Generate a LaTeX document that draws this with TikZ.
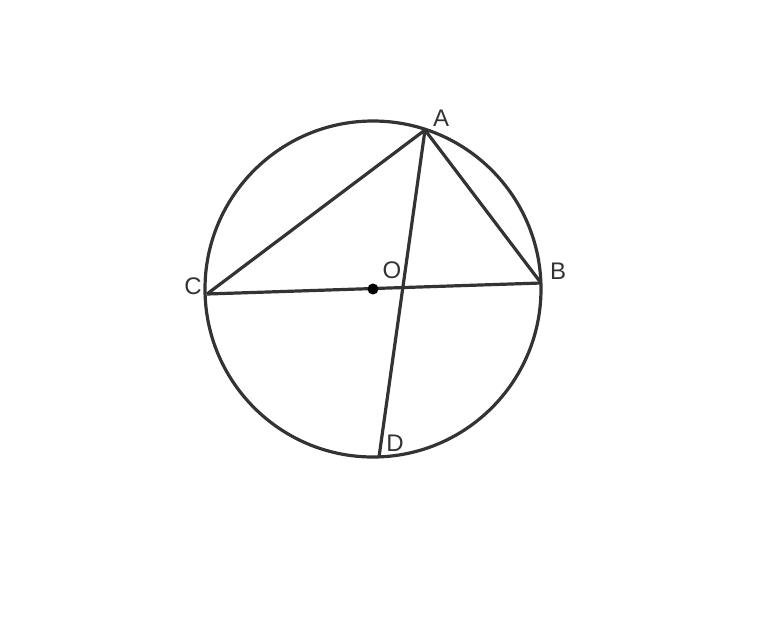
\documentclass[tikz,border=0pt]{standalone}
\usepackage{fontspec}
\setmainfont{Liberation Sans}

\begin{document}
\begin{tikzpicture}[x=1pt,y=-1pt,line width=3.2pt,
  lbl/.style={text=black!80,font=\fontsize{24}{24}\selectfont,inner sep=0pt}]
\useasboundingbox (0,0) rectangle (763,619);
\coordinate (O) at (373,289);
\coordinate (A) at (425,130);
\coordinate (B) at (541,283);
\coordinate (C) at (207,294);
\coordinate (D) at (379,457);
\draw[black!80] (O) circle (168);
\path[draw=black!80] (C) edge (B);
\path[draw=black!80] (C) edge (A);
\path[draw=black!80] (A) edge (B);
\path[draw=black!80] (A) edge (D);
\fill[black] (O) circle (5.5);
\node[lbl] (a) at (441,118) {A};
\node[lbl] (b) at (558,271) {B};
\node[lbl] (c) at (193,286) {C};
\node[lbl] (o) at (392,270) {O};
\node[lbl] (d) at (395,443) {D};
\end{tikzpicture}
\end{document}
